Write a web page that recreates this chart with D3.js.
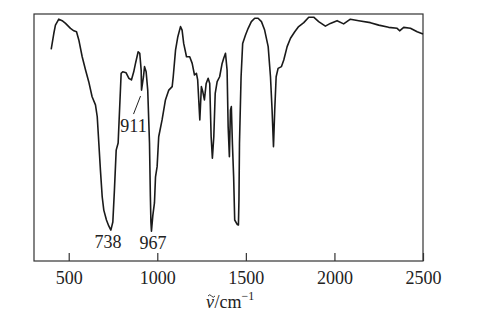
<!DOCTYPE html>
<html>
<head>
<meta charset="utf-8">
<script src="https://cdn.jsdelivr.net/npm/d3@7"></script>
<style>
  html, body { margin: 0; padding: 0; background: #fff; }
  svg text { font-family: "Liberation Serif", "Times New Roman", serif; fill: #222; }
</style>
</head>
<body>
<div id="chart"></div>
<script>
// IR spectrum — transmittance vs wavenumber.

const wavenumber = [
  401, 416, 425, 444, 463, 482, 510, 529, 544, 557, 576, 595, 613, 632, 651, 661, 670, 679, 689, 698,
  713, 726, 738, 749, 758, 768, 779, 787, 796, 805, 824, 839, 854, 867, 877, 892, 901, 909, 911, 922,
  928, 937, 946, 956, 961, 964, 967, 975, 984, 990, 999, 1008, 1027, 1046, 1065, 1084, 1090, 1103, 1116, 1131,
  1140, 1149, 1165, 1183, 1197, 1210, 1221, 1228, 1240, 1249, 1257, 1266, 1276, 1287, 1296, 1304, 1311, 1319, 1327, 1338,
  1352, 1366, 1375, 1385, 1394, 1400, 1407, 1413, 1418, 1424, 1431, 1437, 1451, 1458, 1461, 1464, 1473, 1482, 1498, 1513,
  1531, 1550, 1569, 1588, 1606, 1626, 1639, 1648, 1656, 1663, 1671, 1682, 1701, 1714, 1733, 1752, 1776, 1798, 1827, 1855,
  1883, 1911, 1949, 1977, 2015, 2052, 2090, 2137, 2203, 2250, 2306, 2354, 2368, 2391, 2429, 2467, 2500
];
const transmittance = [
  85.7, 92.2, 95.5, 97.9, 97.3, 96.2, 94.2, 93.2, 92.8, 89.5, 82.7, 77.3, 72.6, 66.5, 63.2, 58.4, 47.7, 36.8, 26.0, 20.6,
  16.6, 14.2, 12.5, 15.8, 28.7, 44.9, 47.8, 61.1, 76.0, 76.6, 76.2, 74.0, 73.3, 76.6, 80.0, 84.7, 84.1, 77.3, 69.2, 74.6,
  78.7, 76.6, 69.2, 47.8, 26.0, 15.8, 12.1, 18.6, 23.5, 34.1, 38.2, 50.3, 57.1, 65.2, 69.2, 70.6, 74.6, 85.4, 90.8, 94.9,
  93.5, 88.1, 82.7, 82.7, 80.0, 75.3, 76.0, 73.3, 57.1, 70.6, 68.5, 65.2, 71.9, 74.0, 71.9, 50.3, 41.6, 50.3, 67.9, 72.6,
  74.6, 80.0, 82.1, 84.1, 77.3, 54.4, 42.2, 61.1, 62.5, 47.7, 34.1, 16.6, 14.8, 14.6, 24.7, 47.8, 74.6, 88.1, 91.5, 94.2,
  96.9, 98.3, 98.3, 96.9, 93.5, 86.8, 74.6, 61.1, 46.3, 61.1, 74.6, 78.0, 78.7, 81.4, 86.8, 90.2, 92.8, 94.9, 96.5, 98.7,
  98.7, 96.9, 95.1, 96.2, 97.3, 96.0, 97.9, 97.3, 96.5, 95.5, 94.6, 94.2, 93.2, 94.6, 94.2, 92.8, 91.9
];

const xTickValues = [500, 1000, 1500, 2000, 2500];

// Peak annotations: [wavenumber, label]
const peakLabels = [[738, '738'], [967, '967']];
const calloutPeak = [911, '911'];

const width = 483, height = 315;
const margin = { top: 14, right: 60, bottom: 54, left: 34 };
const W = width - margin.left - margin.right;
const H = height - margin.top - margin.bottom;
const fontSize = 18;

const svg = d3.select('#chart').append('svg')
  .attr('width', width)
  .attr('height', height);

const g = svg.append('g').attr('transform', `translate(${margin.left},${margin.top})`);

const x = d3.scaleLinear().domain([304, 2500]).range([0, W]);
const y = d3.scaleLinear().domain([0, 100]).range([H, 0]);

const data = wavenumber.map((v, i) => ({ v, t: transmittance[i] }));

// Frame
g.append('rect')
  .attr('x', 0).attr('y', 0)
  .attr('width', W).attr('height', H)
  .attr('fill', 'none')
  .attr('stroke', '#333')
  .attr('stroke-width', 1.2);

// X axis: inward ticks, no domain line
const xAxis = d3.axisBottom(x)
  .tickValues(xTickValues)
  .tickSize(-8)
  .tickPadding(10)
  .tickFormat(d3.format('d'));

const gx = g.append('g')
  .attr('transform', `translate(0,${H})`)
  .call(xAxis);
gx.select('.domain').remove();
gx.selectAll('.tick line').attr('stroke', '#333').attr('stroke-width', 1.2);
gx.selectAll('.tick text')
  .attr('fill', '#222')
  .style('font-size', fontSize + 'px')
  .style('font-family', '"Liberation Serif", serif');

// Spectrum line
const line = d3.line()
  .x(d => x(d.v))
  .y(d => y(d.t))
  .curve(d3.curveLinear);

g.append('path')
  .datum(data)
  .attr('fill', 'none')
  .attr('stroke', '#1a1a1a')
  .attr('stroke-width', 1.6)
  .attr('stroke-linejoin', 'round')
  .attr('d', line);

// Peak labels under minima
const tAt = v => transmittance[wavenumber.indexOf(v)];
g.selectAll('.peak')
  .data(peakLabels)
  .join('text')
  .attr('class', 'peak')
  .attr('x', d => x(d[0]) + (d[0] === 738 ? -3 : 1.5))
  .attr('y', d => y(tAt(d[0])) + 18)
  .attr('text-anchor', 'middle')
  .style('font-size', fontSize + 'px')
  .text(d => d[1]);

// 911 callout with a leader line
const cx = x(calloutPeak[0]), cy = y(tAt(calloutPeak[0]));
g.append('line')
  .attr('x1', cx - 1).attr('y1', cy + 6)
  .attr('x2', cx - 8).attr('y2', cy + 24)
  .attr('stroke', '#222')
  .attr('stroke-width', 1);
g.append('text')
  .attr('x', cx - 8)
  .attr('y', cy + 42)
  .attr('text-anchor', 'middle')
  .style('font-size', fontSize + 'px')
  .text(calloutPeak[1]);

// Axis title: italic nu with a small tilde stroke above, then /cm^-1
const titleX = 206, titleY = 308;
const gt = svg.append('g');
const nu = gt.append('text')
  .attr('x', titleX).attr('y', titleY)
  .style('font-size', fontSize + 'px')
  .style('font-style', 'italic')
  .text('ν');
const nuW = nu.node().getComputedTextLength();
const tx = titleX + nuW / 2 + 1.5, ty = titleY - 13;
gt.append('path')
  .attr('d', `M${tx - 3.5},${ty + 1} q1.75,-2.5 3.5,0 t3.5,0`)
  .attr('fill', 'none')
  .attr('stroke', '#222')
  .attr('stroke-width', 0.9);
const rest = gt.append('text')
  .attr('x', titleX + nuW + 0.5).attr('y', titleY)
  .style('font-size', fontSize + 'px');
rest.append('tspan').text('/cm');
rest.append('tspan').attr('dy', -8).style('font-size', '12px').text('−1');
</script>
</body>
</html>
